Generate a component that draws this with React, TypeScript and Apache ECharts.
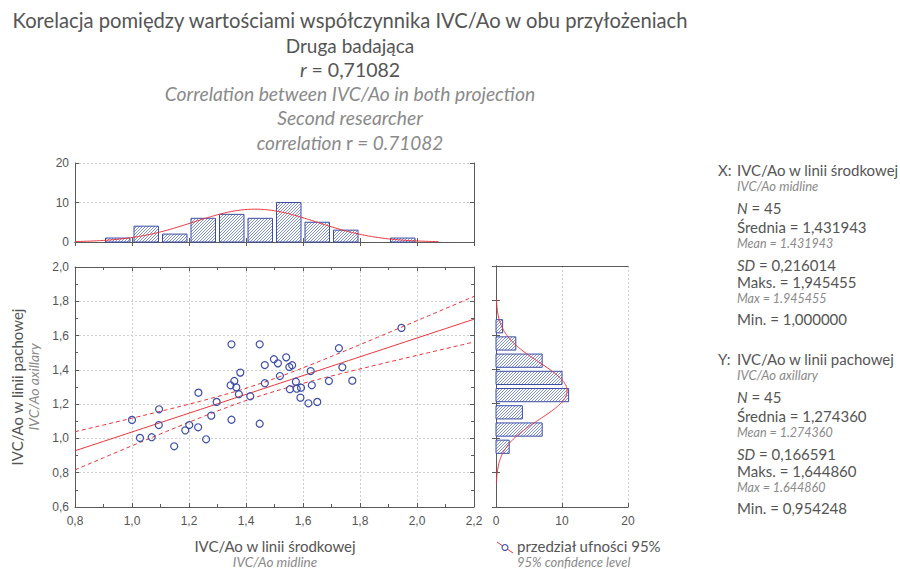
import React, { useEffect, useRef } from 'react';
import * as echarts from 'echarts';

// ---------- data ----------
const xValues = [
  1.0, 1.028, 1.069, 1.095, 1.094, 1.148, 1.187, 1.201, 1.233, 1.232,
  1.26, 1.278, 1.297, 1.349, 1.346, 1.359, 1.366, 1.375, 1.349, 1.38,
  1.415, 1.448, 1.448, 1.466, 1.466, 1.498, 1.512, 1.519, 1.541, 1.552,
  1.562, 1.575, 1.554, 1.578, 1.593, 1.591, 1.627, 1.631, 1.619, 1.65,
  1.691, 1.726, 1.738, 1.773, 1.945455,
];
const yValues = [
  1.108, 1.003, 1.007, 1.17, 1.078, 0.954248, 1.047, 1.078, 1.267, 1.065,
  0.995, 1.133, 1.213, 1.549, 1.31, 1.335, 1.298, 1.258, 1.109, 1.384,
  1.246, 1.549, 1.086, 1.428, 1.322, 1.462, 1.438, 1.364, 1.473, 1.417,
  1.427, 1.331, 1.287, 1.29, 1.296, 1.238, 1.393, 1.31, 1.205, 1.213,
  1.335, 1.526, 1.415, 1.337, 1.64486,
];

const xBinEdges = [0.9, 1.0, 1.1, 1.2, 1.3, 1.4, 1.5, 1.6, 1.7, 1.8, 1.9, 2.0];
const xBinCounts = [1, 4, 2, 6, 7, 6, 10, 5, 3, 0, 1];
const yBinEdges = [0.9, 1.0, 1.1, 1.2, 1.3, 1.4, 1.5, 1.6, 1.7];
const yBinCounts = [2, 7, 4, 11, 10, 7, 3, 1];

const N = 45;
const xMean = 1.431943, xSD = 0.216014, xMax = 1.945455, xMin = 1.0;
const yMean = 1.27436, ySD = 0.166591, yMax = 1.64486, yMin = 0.954248;
const rCoef = 0.71082;
const tCrit = 2.0167; // t(0.975, 43)

const titleLinesPL = [
  'Korelacja pomiędzy wartościami współczynnika IVC/Ao w obu przyłożeniach',
  'Druga badająca',
];
const titleLinesEN = ['Correlation between IVC/Ao in both projection', 'Second researcher'];

const FONT = 'Lato, "Open Sans", sans-serif';
const AXFONT = '"Liberation Sans Narrow", "Liberation Sans", Arial, sans-serif';
const DARK = '#555555';
const GREY = '#8a8a8a';
const RED = '#e8343a';
const BLUE = '#3b4da6';

const pl = (v: number, d: number) => v.toFixed(d).replace('.', ',');

function normalPdf(v: number, m: number, s: number) {
  return Math.exp(-0.5 * ((v - m) / s) ** 2) / (s * Math.sqrt(2 * Math.PI));
}

export default function App() {
  const ref = useRef<HTMLDivElement>(null);
  useEffect(() => {
    if (!ref.current) return;
    const chart = echarts.init(ref.current, undefined, { renderer: 'svg' });

    // hatch pattern
    const cv = document.createElement('canvas');
    cv.width = 3; cv.height = 3;
    const ctx = cv.getContext('2d')!;
    ctx.fillStyle = '#ffffff';
    ctx.fillRect(0, 0, 3, 3);
    ctx.fillStyle = '#8192d0';
    for (let i = 0; i < 3; i++) ctx.fillRect(i, 2 - i, 1, 1);
    const hatch: any = { image: cv, repeat: 'repeat' };

    // regression from stated statistics
    const slope = (rCoef * ySD) / xSD;
    const icpt = yMean - slope * xMean;
    const sRes = ySD * Math.sqrt(((1 - rCoef * rCoef) * (N - 1)) / (N - 2));
    const sxx = (N - 1) * xSD * xSD;
    const fitLine: number[][] = [];
    const upper: number[][] = [];
    const lower: number[][] = [];
    for (let i = 0; i <= 70; i++) {
      const x = 0.8 + i * 0.02;
      const yh = icpt + slope * x;
      const h = tCrit * sRes * Math.sqrt(1 / N + (x - xMean) ** 2 / sxx);
      fitLine.push([x, yh]);
      upper.push([x, yh + h]);
      lower.push([x, yh - h]);
    }

    // normal curves
    const topCurve: number[][] = [];
    for (let x = 0.8; x <= 2.0751; x += 0.005) topCurve.push([x, N * 0.1 * normalPdf(x, xMean, xSD)]);
    const rightCurve: number[][] = [];
    for (let y = 0.738; y <= 1.8081; y += 0.004) rightCurve.push([N * 0.1 * normalPdf(y, yMean, ySD), y]);

    const xBins = xBinCounts.map((c, i) => [xBinEdges[i], xBinEdges[i + 1], c]);
    const yBins = yBinCounts.map((c, i) => [yBinEdges[i], yBinEdges[i + 1], c]);

    const axisLine = { show: true, lineStyle: { color: '#5a5a5a', width: 1 } };
    const split = { show: true, lineStyle: { color: '#cfcfcf', type: [2, 2] as any, width: 1 } };
    const lbl = { color: DARK, fontFamily: AXFONT, fontSize: 12 };
    const tick = { show: true, inside: true, length: 4, lineStyle: { color: '#5a5a5a' } };
    const minor = { show: true, splitNumber: 2, length: 3, lineStyle: { color: '#5a5a5a' } };

    const text = (x: number, y: number, t: string, o: any = {}) => ({
      type: 'text', x, y, silent: true,
      rotation: o.rotation || 0,
      style: {
        text: t,
        fill: o.fill || DARK,
        fontFamily: FONT,
        fontSize: o.size || 15,
        fontStyle: o.italic ? 'italic' : 'normal',
        textAlign: o.align || 'left',
        textVerticalAlign: 'middle',
        align: o.align || 'left',
        verticalAlign: 'middle',
        rich: o.rich,
      },
    });
    const richStd = (size: number, fill: string) => ({
      i: { fontStyle: 'italic', fontSize: size, fontFamily: FONT, fill },
      n: { fontStyle: 'normal', fontSize: size, fontFamily: FONT, fill },
    });

    const SUB = 13;
    const statBlock = (y0: number, label: string, name: string, en: string, mean: number, sd: number, mx: number, mn: number) => [
      text(718, y0, label),
      text(737, y0, name),
      text(737, y0 + 16, en, { italic: true, fill: GREY, size: SUB }),
      text(737, y0 + 38, '{i|N}{n| = ' + N + '}', { rich: richStd(15, DARK) }),
      text(737, y0 + 57, 'Średnia = ' + pl(mean, 6)),
      text(737, y0 + 73, 'Mean = ' + mean.toFixed(6), { italic: true, fill: GREY, size: 12.5 }),
      text(737, y0 + 95, '{i|SD}{n| = ' + pl(sd, 6) + '}', { rich: richStd(15, DARK) }),
      text(737, y0 + 112, 'Maks. = ' + pl(mx, 6)),
      text(737, y0 + 128, 'Max = ' + mx.toFixed(6), { italic: true, fill: GREY, size: 12.5 }),
      text(737, y0 + 149, 'Min. = ' + pl(mn, 6)),
    ];

    const graphics: any[] = [
      text(350, 20, titleLinesPL[0], { align: 'center', size: 20.2 }),
      text(350, 45, titleLinesPL[1], { align: 'center', size: 19 }),
      text(350, 69, '{i|r}{n| = ' + pl(rCoef, 5) + '}', { align: 'center', size: 19, rich: richStd(19.5, DARK) }),
      text(350, 93, titleLinesEN[0], { align: 'center', size: 19.3, italic: true, fill: GREY }),
      text(350, 117, titleLinesEN[1], { align: 'center', size: 19.3, italic: true, fill: GREY }),
      text(350, 142, '{i|correlation }{n|r}{i| = ' + rCoef.toFixed(5) + '}', { align: 'center', size: 19, rich: richStd(19, GREY) }),
      ...statBlock(170, 'X:', 'IVC/Ao w linii środkowej', 'IVC/Ao midline', xMean, xSD, xMax, xMin),
      ...statBlock(359, 'Y:', 'IVC/Ao w linii pachowej', 'IVC/Ao axillary', yMean, ySD, yMax, yMin),
      text(275, 546, 'IVC/Ao w linii środkowej', { align: 'center' }),
      text(275, 562, 'IVC/Ao midline', { align: 'center', italic: true, fill: GREY, size: 13.5 }),
      text(17, 387, 'IVC/Ao w linii pachowej', { align: 'center', rotation: Math.PI / 2 }),
      text(33, 387, 'IVC/Ao axillary', { align: 'center', rotation: Math.PI / 2, italic: true, fill: GREY, size: 14 }),
      text(517, 546, 'przedział ufności 95%'),
      text(517, 562, '95% confidence level', { italic: true, fill: GREY, size: 13 }),
      { type: 'line', silent: true, shape: { x1: 497, y1: 542, x2: 513, y2: 553 }, style: { stroke: RED, lineWidth: 1 } },
      { type: 'circle', silent: true, shape: { cx: 505, cy: 547.5, r: 3 }, style: { fill: '#fff', stroke: BLUE, lineWidth: 1.1 } },
    ];

    const option: any = {
      animation: false,
      backgroundColor: '#ffffff',
      grid: [
        { left: 75, top: 163, width: 399, height: 79 },
        { left: 75, top: 267, width: 399, height: 240 },
        { left: 496, top: 266, width: 132, height: 241 },
      ],
      xAxis: [
        { gridIndex: 0, type: 'value', min: 0.8, max: 2.2, interval: 0.2, position: 'bottom', axisLine, axisTick: tick, axisLabel: { show: false }, splitLine: { show: false } },
        { gridIndex: 0, type: 'value', min: 0.8, max: 2.2, interval: 0.2, position: 'top', axisLine, axisTick: tick, axisLabel: { show: false }, splitLine: { show: false } },
        { gridIndex: 1, type: 'value', min: 0.8, max: 2.2, interval: 0.2, position: 'bottom', axisLine, axisTick: tick, minorTick: minor, axisLabel: { ...lbl, margin: 8, formatter: (v: number) => pl(v, 1) }, splitLine: split },
        { gridIndex: 1, type: 'value', min: 0.8, max: 2.2, interval: 0.2, position: 'top', axisLine, axisTick: tick, minorTick: minor, axisLabel: { show: false }, splitLine: { show: false } },
        { gridIndex: 2, type: 'value', min: 0, max: 20, interval: 10, position: 'bottom', axisLine, axisTick: tick, axisLabel: { ...lbl, margin: 8 }, splitLine: split },
        { gridIndex: 2, type: 'value', min: 0, max: 20, interval: 10, position: 'top', axisLine, axisTick: { show: false }, axisLabel: { show: false }, splitLine: { show: false } },
      ],
      yAxis: [
        { gridIndex: 0, type: 'value', min: 0, max: 20, interval: 10, position: 'left', axisLine, axisTick: tick, axisLabel: { ...lbl, margin: 6 }, splitLine: split },
        { gridIndex: 0, type: 'value', min: 0, max: 20, interval: 10, position: 'right', axisLine, axisTick: tick, axisLabel: { show: false }, splitLine: { show: false } },
        { gridIndex: 1, type: 'value', min: 0.6, max: 2.0, interval: 0.2, position: 'left', axisLine, axisTick: tick, minorTick: minor, axisLabel: { ...lbl, margin: 6, formatter: (v: number) => pl(v, 1) }, splitLine: split },
        { gridIndex: 1, type: 'value', min: 0.6, max: 2.0, interval: 0.2, position: 'right', axisLine, axisTick: tick, minorTick: minor, axisLabel: { show: false }, splitLine: { show: false } },
        { gridIndex: 2, type: 'value', min: 0.6, max: 2.0, interval: 0.2, position: 'left', axisLine, axisTick: tick, axisLabel: { show: false }, splitLine: { show: false } },
        { gridIndex: 2, type: 'value', min: 0.6, max: 2.0, interval: 0.2, position: 'right', axisLine, axisTick: tick, axisLabel: { show: false }, splitLine: { show: false } },
      ],
      series: [
        {
          type: 'custom', xAxisIndex: 0, yAxisIndex: 0, data: xBins, encode: { x: [0, 1], y: 2 },
          renderItem: (_p: any, api: any) => {
            const c = api.value(2);
            if (!c) return null;
            const a = api.coord([api.value(0), c]);
            const b = api.coord([api.value(1), 0]);
            return { type: 'rect', shape: { x: a[0] + 2, y: a[1], width: b[0] - a[0] - 4, height: b[1] - a[1] }, style: { fill: hatch, stroke: BLUE, lineWidth: 1 } };
          },
        },
        { type: 'line', xAxisIndex: 0, yAxisIndex: 0, data: topCurve, showSymbol: false, smooth: false, lineStyle: { color: RED, width: 1 }, z: 5 },
        {
          type: 'custom', xAxisIndex: 4, yAxisIndex: 4, data: yBins, encode: { x: 2, y: [0, 1] },
          renderItem: (_p: any, api: any) => {
            const c = api.value(2);
            if (!c) return null;
            const a = api.coord([0, api.value(1)]);
            const b = api.coord([c, api.value(0)]);
            return { type: 'rect', shape: { x: a[0], y: a[1] + 2, width: b[0] - a[0], height: b[1] - a[1] - 4 }, style: { fill: hatch, stroke: BLUE, lineWidth: 1 } };
          },
        },
        { type: 'line', xAxisIndex: 4, yAxisIndex: 4, data: rightCurve, showSymbol: false, lineStyle: { color: RED, width: 1 }, z: 5 },
        { type: 'line', xAxisIndex: 2, yAxisIndex: 2, data: fitLine, showSymbol: false, lineStyle: { color: RED, width: 1 } },
        { type: 'line', xAxisIndex: 2, yAxisIndex: 2, data: upper, showSymbol: false, lineStyle: { color: RED, width: 1, type: [4, 3] } },
        { type: 'line', xAxisIndex: 2, yAxisIndex: 2, data: lower, showSymbol: false, lineStyle: { color: RED, width: 1, type: [4, 3] } },
        {
          type: 'scatter', xAxisIndex: 2, yAxisIndex: 2,
          data: xValues.map((x, i) => [x, yValues[i]]),
          symbol: 'circle', symbolSize: 7,
          itemStyle: { color: 'rgba(255,255,255,0)', borderColor: BLUE, borderWidth: 1.2, opacity: 1 },
          z: 6,
        },
      ],
      graphic: graphics,
    };
    chart.setOption(option);
    return () => chart.dispose();
  }, []);
  return <div ref={ref} style={{ position: 'fixed', left: 0, top: 0, width: 900, height: 569, background: '#fff' }} />;
}
